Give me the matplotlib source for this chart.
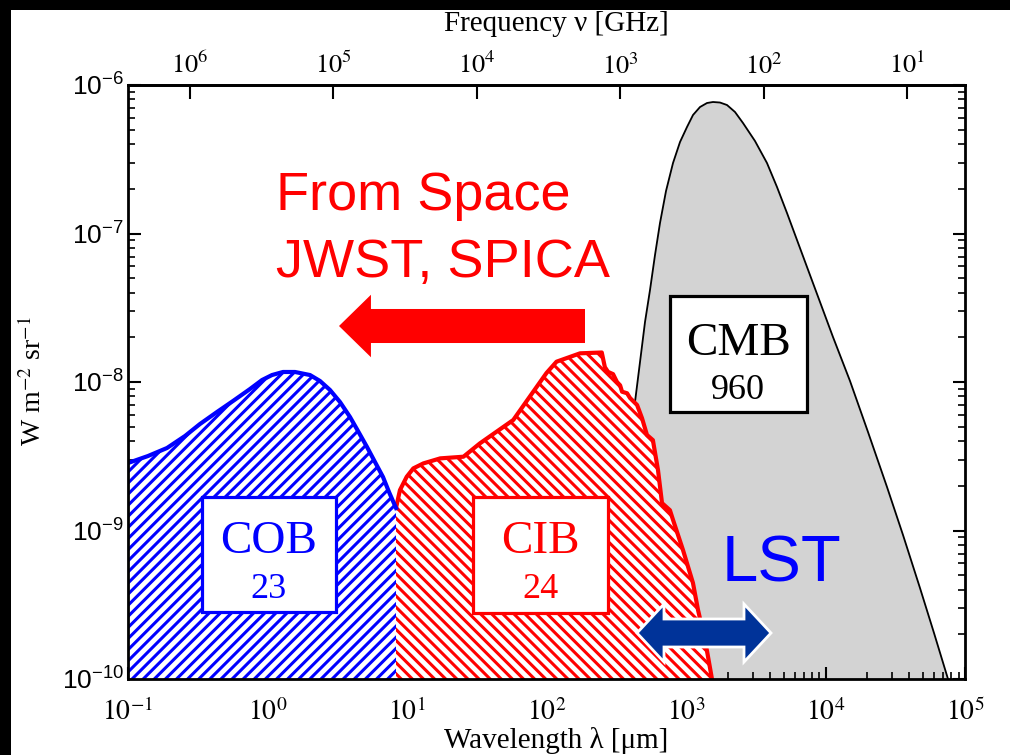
import numpy as np
import matplotlib
matplotlib.use('Agg')
import matplotlib.pyplot as plt
from matplotlib.patches import Rectangle, Polygon, FancyArrowPatch, ArrowStyle
from matplotlib.ticker import LogLocator, NullLocator, NullFormatter

plt.rcParams['mathtext.fontset'] = 'custom'
plt.rcParams['mathtext.rm'] = 'Liberation Sans'
plt.rcParams['mathtext.it'] = 'Liberation Sans:italic'
plt.rcParams['mathtext.bf'] = 'Liberation Sans:bold'
plt.rcParams['hatch.linewidth'] = 2.2

# ---------------- data (wavelength in um, intensity in W m^-2 sr^-1) ----------------
cob_lam = [0.1, 0.1391, 0.1904, 0.2563, 0.3281, 0.4345, 0.5657, 0.7493, 0.9133, 1.077,
           1.2915, 1.574, 2.017, 2.378, 2.805, 3.309, 3.903, 4.454, 5.168, 5.896,
           6.730, 7.430, 8.340]
cob_I = [2.848e-9, 3.174e-9, 3.594e-9, 4.329e-9, 5.214e-9, 6.281e-9, 7.447e-9, 8.97e-9,
         1.031e-8, 1.114e-8, 1.168e-8, 1.168e-8, 1.114e-8, 1.016e-8, 8.834e-9, 7.33e-9,
         5.811e-9, 4.677e-9, 3.650e-9, 2.892e-9, 2.292e-9, 1.817e-9, 1.417e-9]

cib_lam = [8.34, 8.9, 9.95, 11.1, 13.1, 17.3, 25.4, 33.3, 57.8, 100, 118, 174, 249,
           262, 276, 300, 320, 337, 348, 378, 397, 446, 484, 525, 579, 630, 673,
           767, 807, 951, 1122, 1219, 1368, 1439, 1535]
cib_I = [1.417e-9, 1.87e-9, 2.30e-9, 2.62e-9, 2.83e-9, 3.06e-9, 3.14e-9, 3.86e-9,
         5.55e-9, 1.15e-8, 1.37e-8, 1.56e-8, 1.58e-8,
         1.26e-8, 1.17e-8, 1.13e-8, 1.0e-8, 9.5e-9, 8.6e-9, 8.4e-9, 7.8e-9, 7.0e-9,
         5.7e-9, 4.4e-9, 4.06e-9, 2.55e-9, 1.53e-9, 1.37e-9, 1.18e-9, 7.4e-10,
         4.43e-10, 2.92e-10, 1.83e-10, 1.41e-10, 1.0e-10]

cmb_lam = [294.8, 336.5, 383.8, 430.9, 468.1, 508.3, 552.0, 599.5, 651.0, 718.9, 807.0,
           905.8, 1016.7, 1122.7, 1260.1, 1414.4, 1561.5, 1752.6, 1967.2, 2245, 2562,
           3123, 3807, 4491, 5297, 6248, 7369, 9133, 11316, 14985, 20170, 27600, 35940,
           47570, 59960, 75530]
cmb_I = [1.0e-10, 4.64e-10, 2.19e-9, 7.33e-9, 1.364e-8, 2.535e-8, 4.163e-8, 7.165e-8,
         1.177e-7, 1.932e-7, 2.983e-7, 4.131e-7, 5.214e-7, 6.281e-7, 7.108e-7, 7.564e-7,
         7.683e-7, 7.62e-7, 7.333e-7, 6.580e-7, 5.547e-7, 4.196e-7, 2.983e-7, 2.056e-7,
         1.374e-7, 9.04e-8, 5.95e-8, 3.457e-8, 2.009e-8, 1.016e-8, 4.605e-9, 1.963e-9,
         9.33e-10, 4.10e-10, 2.04e-10, 1.0e-10]

lam_tick_exp = [-1, 0, 1, 2, 3, 4, 5]
I_tick_exp = [-10, -9, -8, -7, -6]
nu_tick_exp = [6, 5, 4, 3, 2, 1]   # GHz

# top (frequency) axis as drawn in the reference: nu = NU0 * lam**(-NU_SLOPE)
NU0 = 2.881e5
NU_SLOPE = 0.97284

box_labels = [("COB", "23"), ("CIB", "24"), ("CMB", "960")]

# ---------------- figure ----------------
W, H = 1010, 755
fig = plt.figure(figsize=(W / 100, H / 100), dpi=100, facecolor='black')
fig.patches.append(Rectangle((11 / W, 0), 1, 1 - 10 / H, transform=fig.transFigure,
                             facecolor='white', edgecolor='none', zorder=-10))

ax_l, ax_r, ax_t, ax_b = 128, 965, 85, 679
ax = fig.add_axes([ax_l / W, (H - ax_b) / H, (ax_r - ax_l) / W, (ax_b - ax_t) / H])
ax.set_facecolor('white')
ax.set_xscale('log')
ax.set_yscale('log')
ax.set_xlim(1e-1, 1e5)
ax.set_ylim(1e-10, 1e-6)

floor = 1e-12
# CMB
ax.fill_between(cmb_lam, cmb_I, floor, facecolor='#d3d3d3', edgecolor='none', zorder=1)
ax.plot(cmb_lam, cmb_I, color='black', lw=1.3, zorder=1.5)
# CIB
ax.fill_between(cib_lam, cib_I, floor, facecolor='white', edgecolor='red', hatch='\\\\\\',
                linewidth=0, zorder=2)
ax.plot(cib_lam, cib_I, color='red', lw=3, zorder=2.5, solid_joinstyle='round')
# COB
ax.fill_between(cob_lam, cob_I, floor, facecolor='white', edgecolor='blue', hatch='///',
                linewidth=0, zorder=3)
ax.plot(cob_lam, cob_I, color='blue', lw=3, zorder=3.5, solid_joinstyle='round')

# ---------------- axes styling ----------------
for s in ax.spines.values():
    s.set_linewidth(2.0)
    s.set_zorder(10)
ax.set_xticks([10.0 ** e for e in lam_tick_exp])
ax.set_xticklabels([f'$10^{{{e}}}$' for e in lam_tick_exp], fontsize=20,
                   math_fontfamily='stix')
ax.set_yticks([10.0 ** e for e in I_tick_exp])
ax.set_yticklabels([f'$10^{{{e}}}$' for e in I_tick_exp], fontsize=19,
                   math_fontfamily='custom')
ax.xaxis.set_minor_locator(LogLocator(base=10, subs=np.arange(2, 10), numticks=30))
ax.yaxis.set_minor_locator(LogLocator(base=10, subs=np.arange(2, 10), numticks=30))
ax.xaxis.set_minor_formatter(NullFormatter())
ax.yaxis.set_minor_formatter(NullFormatter())
ax.tick_params(which='major', direction='in', length=9, width=1.5, top=False, right=True,
               zorder=10)
ax.tick_params(which='minor', direction='in', length=5, width=1.2, top=False, right=True)
ax.tick_params(axis='x', which='major', pad=14)
ax.tick_params(axis='y', which='major', pad=3)


def lam2nu(x):
    x = np.asarray(x, dtype=float)
    with np.errstate(divide='ignore', invalid='ignore'):
        return NU0 * x ** (-NU_SLOPE)


def nu2lam(n):
    n = np.asarray(n, dtype=float)
    with np.errstate(divide='ignore', invalid='ignore'):
        return (NU0 / n) ** (1.0 / NU_SLOPE)


secax = ax.secondary_xaxis('top', functions=(lam2nu, nu2lam))
secax.set_xticks([10.0 ** e for e in nu_tick_exp])
secax.set_xticklabels([f'$10^{{{e}}}$' for e in nu_tick_exp], fontsize=19,
                      math_fontfamily='stix')
secax.xaxis.set_minor_locator(NullLocator())
secax.tick_params(direction='in', length=10, width=1.5, pad=4)
secax.spines['top'].set_linewidth(2.0)

fig.text(0.551, (H - 748) / H, 'Wavelength λ [μm]', ha='center', va='baseline',
         fontsize=21, family='Liberation Serif')
fig.text(0.551, (H - 31) / H, 'Frequency ν [GHz]', ha='center', va='baseline',
         fontsize=21, family='Liberation Serif')
fig.text(33 / W, (H - 381) / H, r'W m$^{-2}$ sr$^{-1}$', ha='center', va='center',
         rotation=90, fontsize=20, family='Liberation Serif', math_fontfamily='stix')

# ---------------- annotation boxes ----------------
axw, axh = ax_r - ax_l, ax_b - ax_t


def fx(px):
    return (px - ax_l) / axw


def fy(py):
    return (ax_b - py) / axh


boxes = [  # (x0, x1, y0, y1 in ref px, color, centre x, baseline1, baseline2)
    (202, 336, 497, 612, 'blue', 269, 553, 598),
    (473, 608, 497, 613, 'red', 540, 553, 598),
    (670, 807, 296, 412, 'black', 738, 355, 399),
]
for (x0, x1, y0, y1, col, cx, b1, b2), (t1, t2) in zip(boxes, box_labels):
    ax.add_patch(Rectangle((fx(x0), fy(y1)), fx(x1) - fx(x0), fy(y0) - fy(y1),
                           transform=ax.transAxes, facecolor='white', edgecolor=col,
                           lw=2.3, zorder=6))
    ax.text(fx(cx), fy(b1), t1, transform=ax.transAxes, ha='center', va='baseline',
            fontsize=34, color=col, family='Liberation Serif', zorder=7)
    ax.text(fx(cx), fy(b2), t2, transform=ax.transAxes, ha='center', va='baseline',
            fontsize=26, color=col, family='Liberation Serif', zorder=7)

# ---------------- red text and arrow ----------------
ax.text(fx(276), fy(210), 'From Space', transform=ax.transAxes, ha='left', va='baseline',
        fontsize=39, color='red', family='Liberation Sans', zorder=7)
ax.text(fx(276), fy(277), 'JWST, SPICA', transform=ax.transAxes, ha='left',
        va='baseline', fontsize=39, color='red', family='Liberation Sans', zorder=7)
ax.add_patch(FancyArrowPatch((fx(585), fy(326)), (fx(339), fy(326)),
                             transform=ax.transAxes,
                             arrowstyle=ArrowStyle.Simple(head_length=23, head_width=45,
                                                          tail_width=24.5),
                             mutation_scale=1, shrinkA=0, shrinkB=0, color='red', lw=0,
                             zorder=7))

# ---------------- LST double arrow ----------------
cyp = 633
lt, rt, lb, rb, hh, sh = 637, 771, 664, 744, 29, 14
verts = [(lt, cyp), (lb, cyp - hh), (lb, cyp - sh), (rb, cyp - sh), (rb, cyp - hh),
         (rt, cyp), (rb, cyp + hh), (rb, cyp + sh), (lb, cyp + sh), (lb, cyp + hh)]
ax.add_patch(Polygon([(fx(a), fy(b)) for a, b in verts], closed=True,
                     transform=ax.transAxes, facecolor='#003399', edgecolor='white',
                     lw=2, zorder=8, joinstyle='miter'))
ax.text(fx(722), fy(582), 'LST', transform=ax.transAxes, ha='left', va='baseline',
        fontsize=47, color='#0000ff', family='Liberation Sans', zorder=8)

fig.savefig('out.png', dpi=100, facecolor=fig.get_facecolor())
